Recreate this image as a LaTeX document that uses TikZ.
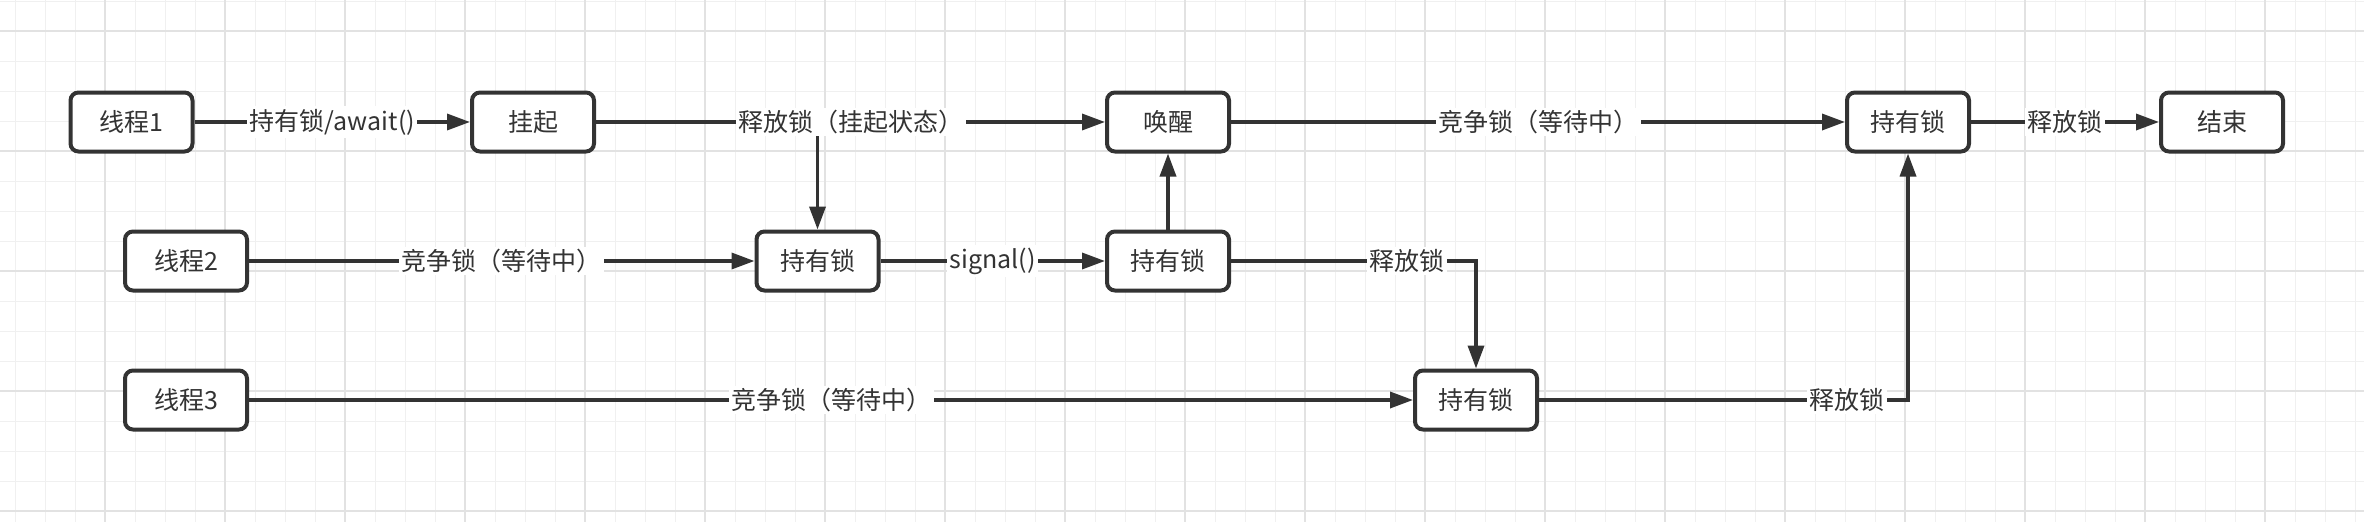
\documentclass[tikz,border=0pt]{standalone}
\usepackage{fontspec}
\setmainfont{Noto Sans CJK SC}
\usetikzlibrary{arrows.meta}
\definecolor{ink}{HTML}{333333}
\definecolor{gridminor}{RGB}{240,240,240}
\definecolor{gridmajor}{RGB}{226,226,226}
\begin{document}
\begin{tikzpicture}[x=1pt,y=-1pt,
  box/.style={draw=ink, line width=4pt, rounded corners=8pt, fill=white,
    minimum width=122pt, minimum height=59pt, inner sep=0pt, text=ink,
    font=\fontsize{25}{29}\selectfont},
  arr/.style={draw=ink, line width=3.5pt, -{Triangle[length=23pt,width=16pt]}},
  lbl/.style={fill=white, inner sep=2.5pt, text=ink, font=\fontsize{25}{29}\selectfont}]
\useasboundingbox (0,0) rectangle (2364,522);
\fill[white] (0,0) rectangle (2364,522);
% grid
\foreach \i in {0,...,78} {\draw[gridminor, line width=1pt] ({15+30*\i},0) -- ({15+30*\i},522);}
\foreach \i in {0,...,17} {\draw[gridminor, line width=1pt] (0,{1+30*\i}) -- (2364,{1+30*\i});}
\foreach \i in {0,...,18} {\draw[gridmajor, line width=2pt] ({105+120*\i},0) -- ({105+120*\i},522);}
\foreach \i in {0,...,4} {\draw[gridmajor, line width=2pt] (0,{31+120*\i}) -- (2364,{31+120*\i});}
% nodes
\node[box] (t1) at (131.5,122) {线程1};
\node[box] (hang) at (533,122) {挂起};
\node[box] (wake) at (1168,122) {唤醒};
\node[box] (hold4) at (1908,122) {持有锁};
\node[box] (done) at (2222,122) {结束};
\node[box] (t2) at (186,261) {线程2};
\node[box] (hold1) at (817.5,261) {持有锁};
\node[box] (hold2) at (1168,261) {持有锁};
\node[box] (t3) at (186,400) {线程3};
\node[box] (hold3) at (1476,400) {持有锁};
% edges
\draw[arr] (t1) -- node[lbl]{持有锁/await()} (hang);
\draw[arr] (hold1 |- hang) -- (hold1);
\draw[arr] (hang) -- node[lbl]{释放锁（挂起状态）} (wake);
\draw[arr] (t2) -- node[lbl]{竞争锁（等待中）} (hold1);
\draw[arr] (hold1) -- node[lbl]{signal()} (hold2);
\draw[arr] (hold2) -- (wake);
\draw[arr] (wake) -- node[lbl]{竞争锁（等待中）} (hold4);
\draw[arr] (hold4) -- node[lbl]{释放锁} (done);
\draw[arr] (hold2.east) -| node[lbl,pos=0.36]{释放锁} (hold3.north);
\draw[arr] (t3) -- node[lbl]{竞争锁（等待中）} (hold3);
\draw[arr] (hold3.east) -| node[lbl,pos=0.417]{释放锁} (hold4.south);
\end{tikzpicture}
\end{document}
